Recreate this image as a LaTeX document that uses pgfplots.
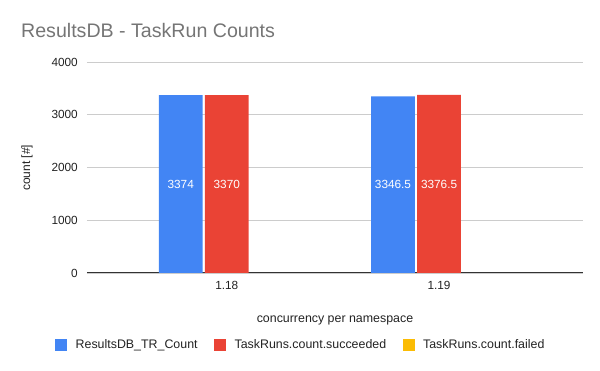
\documentclass[border=0pt]{standalone}
\usepackage{pgfplots}
\pgfplotsset{compat=1.18}
\usepackage{fontspec}
\setmainfont{Liberation Sans}
\definecolor{cblue}{HTML}{4285F4}
\definecolor{cred}{HTML}{EA4335}
\definecolor{cyellow}{HTML}{FBBC04}
\definecolor{titlegray}{HTML}{757575}
\definecolor{gridgray}{HTML}{CCCCCC}
\definecolor{axisdark}{HTML}{333333}
\definecolor{textdark}{HTML}{222222}
\begin{document}
\begin{tikzpicture}[x=1pt,y=1pt]
\useasboundingbox (0,0) rectangle (600,371);
\node[anchor=west, text=titlegray, font=\fontsize{19.6}{24}\selectfont, inner sep=0pt] at (21,340) {ResultsDB - TaskRun Counts};
\begin{axis}[
  at={(87pt,98pt)}, anchor=south west,
  scale only axis, width=496pt, height=211pt,
  xmin=-0.6585, xmax=1.678, ymin=0, ymax=4000,
  enlargelimits=false,
  xtick={0,1}, xticklabels={1.18,1.19},
  ytick={0,1000,2000,3000,4000},
  major tick length=0pt,
  axis line style={draw=none},
  ymajorgrids, grid style={gridgray, line width=0.8pt},
  extra y ticks={0}, extra y tick labels={},
  extra y tick style={grid style={axisdark, line width=1pt}},
  /pgf/number format/1000 sep={},
  /pgf/number format/assume math mode=true,
  tick label style={font=\fontsize{11.8}{13}\selectfont, text=textdark},
  xticklabel style={anchor=center, inner sep=0pt, yshift=-12pt},
  yticklabel style={anchor=east, inner sep=0pt, xshift=-9pt},
  ylabel={count [\#]},
  xlabel={concurrency per namespace},
  every axis y label/.style={at={(axis description cs:-0.121,0.498)}, rotate=90, anchor=center,
    font=\fontsize{12}{13}\selectfont, text=textdark},
  every axis x label/.style={at={(axis description cs:0.5,-0.2227)}, anchor=center,
    font=\fontsize{12.4}{14}\selectfont, text=textdark},
  bar width=0.206,
  legend columns=3,
  legend style={at={(axis description cs:0.4292,-0.3412)}, anchor=center, draw=none, fill=none,
    inner sep=0pt, nodes={inner sep=0pt},
    font=\fontsize{12.4}{14}\selectfont, text=textdark,
    /tikz/every odd column/.append style={column sep=8.3pt},
    /tikz/every even column/.append style={column sep=16.6pt}},
  legend cell align=left,
  legend image code/.code={\fill[#1] (0pt,-6pt) rectangle (12pt,6pt);},
]
\addplot[ybar, bar shift=-0.217, fill=cblue, draw=none,
  nodes near coords, visualization depends on=rawy \as \rawy,
  every node near coord/.append style={anchor=center, text=white, font=\fontsize{11.8}{13}\selectfont,
    /pgf/number format/assume math mode=true,
    shift={(axis direction cs:-0.217,-\rawy/2)}}]
  coordinates {(0,3374) (1,3346.5)};
\addlegendentry{ResultsDB\_TR\_Count}
\addplot[ybar, bar shift=0, fill=cred, draw=none,
  nodes near coords, visualization depends on=rawy \as \rawy,
  every node near coord/.append style={anchor=center, text=white, font=\fontsize{11.8}{13}\selectfont,
    /pgf/number format/assume math mode=true,
    shift={(axis direction cs:0,-\rawy/2)}}]
  coordinates {(0,3370) (1,3376.5)};
\addlegendentry{TaskRuns.count.succeeded}
\addplot[ybar, bar shift=0.217, fill=none, draw=none, forget plot]
  coordinates {(0,0) (1,0)};
\addlegendimage{fill=cyellow, draw=none}
\addlegendentry{TaskRuns.count.failed}
\end{axis}
\end{tikzpicture}
\end{document}
